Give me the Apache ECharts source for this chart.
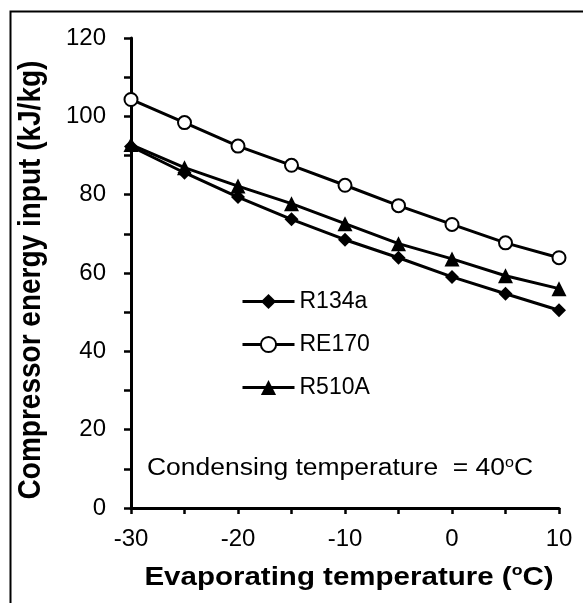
<!DOCTYPE html>
<html>
<head>
<meta charset="utf-8">
<script src="https://cdn.jsdelivr.net/npm/echarts@6/dist/echarts.min.js"></script>
<style>
  html, body { margin: 0; padding: 0; background: #fff; }
  #chart { width: 583px; height: 603px; }
</style>
</head>
<body>
<div id="chart"></div>
<script>
// 蒸发温度 (°C)
var evapTemp = [-30, -25, -20, -15, -10, -5, 0, 5, 10];
// 压缩机耗功 (kJ/kg)
var r134a = [92.3, 85.6, 79.4, 73.7, 68.5, 63.9, 59.0, 54.7, 50.5];
var re170 = [104.3, 98.4, 92.4, 87.5, 82.4, 77.2, 72.4, 67.7, 63.9];
var r510a = [92.8, 86.9, 82.2, 77.7, 72.6, 67.5, 63.6, 59.3, 56.0];
var seriesNames = ['R134a', 'RE170', 'R510A'];

function pairs(ys) {
    return evapTemp.map(function (x, i) { return [x, ys[i]]; });
}

var font = 'Liberation Sans, Arial, sans-serif';
var chart = echarts.init(document.getElementById('chart'));

var lineStyle = { color: '#000', width: 3 };

option = {
    animation: false,
    backgroundColor: '#fff',
    grid: { left: 131, right: 24, top: 38, bottom: 95 },
    legend: {
        orient: 'vertical',
        left: 236,
        top: 285,
        itemWidth: 52,
        itemHeight: 19,
        itemGap: 20,
        lineStyle: { width: 3, color: '#000' },
        textStyle: { fontFamily: font, fontSize: 23, color: '#000' },
        data: seriesNames
    },
    xAxis: {
        type: 'value',
        min: -30,
        max: 10,
        interval: 10,
        axisLine: { onZero: false, lineStyle: { color: '#000', width: 3 } },
        axisTick: { show: true, inside: false, length: 6, lineStyle: { color: '#000', width: 2.5 } },
        minorTick: { show: true, splitNumber: 2, length: 6, lineStyle: { color: '#000', width: 2.5 } },
        axisLabel: { fontFamily: font, fontSize: 24, color: '#000', margin: 19 },
        splitLine: { show: false }
    },
    yAxis: {
        type: 'value',
        min: 0,
        max: 120,
        interval: 20,
        axisLine: { show: true, onZero: false, lineStyle: { color: '#000', width: 3 } },
        axisTick: { show: true, inside: false, length: 7, lineStyle: { color: '#000', width: 2.5 } },
        minorTick: { show: true, splitNumber: 2, length: 7, lineStyle: { color: '#000', width: 2.5 } },
        axisLabel: { fontFamily: font, fontSize: 24, color: '#000', margin: 25 },
        splitLine: { show: false }
    },
    series: [
        {
            name: 'R134a',
            type: 'line',
            data: pairs(r134a),
            symbol: 'diamond',
            symbolSize: 14,
            itemStyle: { color: '#000' },
            lineStyle: lineStyle,
            z: 3
        },
        {
            name: 'RE170',
            type: 'line',
            data: pairs(re170),
            symbol: 'circle',
            symbolSize: 13,
            itemStyle: { color: '#fff', borderColor: '#000', borderWidth: 2 },
            lineStyle: lineStyle,
            z: 3
        },
        {
            name: 'R510A',
            type: 'line',
            data: pairs(r510a),
            symbol: 'triangle',
            symbolSize: 15,
            itemStyle: { color: '#000' },
            lineStyle: lineStyle,
            z: 4
        }
    ],
    graphic: [
        {
            type: 'rect',
            left: 8,
            top: 9,
            shape: { width: 620, height: 620 },
            style: { fill: 'none', stroke: '#000', lineWidth: 2 },
            silent: true
        },
        //纵轴标题
        {
            type: 'text',
            x: 31,
            y: 280,
            rotation: Math.PI / 2,
            scaleY: 1.15,
            style: {
                text: 'Compressor energy input (kJ/kg)',
                align: 'center',
                verticalAlign: 'middle',
                fontFamily: font,
                fontSize: 28,
                fontWeight: 'bold',
                fill: '#000'
            }
        },
        //横轴标题
        {
            type: 'text',
            x: 349,
            y: 578,
            scaleX: 1.18,
            style: {
                text: '{b|Evaporating temperature (}{s|o}{b|C)}',
                align: 'center',
                verticalAlign: 'middle',
                rich: {
                    b: { fontFamily: font, fontSize: 25, fontWeight: 'bold', fill: '#000' },
                    s: { fontFamily: font, fontSize: 15, fontWeight: 'bold', fill: '#000', verticalAlign: 'top', lineHeight: 30 }
                }
            }
        },
        //冷凝温度说明
        {
            type: 'text',
            x: 147,
            y: 469,
            scaleX: 1.15,
            style: {
                text: '{a|Condensing temperature  = 40}{s|o}{a|C}',
                align: 'left',
                verticalAlign: 'middle',
                rich: {
                    a: { fontFamily: font, fontSize: 23, fill: '#000' },
                    s: { fontFamily: font, fontSize: 14, fill: '#000', verticalAlign: 'top', lineHeight: 26 }
                }
            }
        }
    ]
};

if (option && typeof option === "object") {
    chart.setOption(option, true)
};
</script>
</body>
</html>
